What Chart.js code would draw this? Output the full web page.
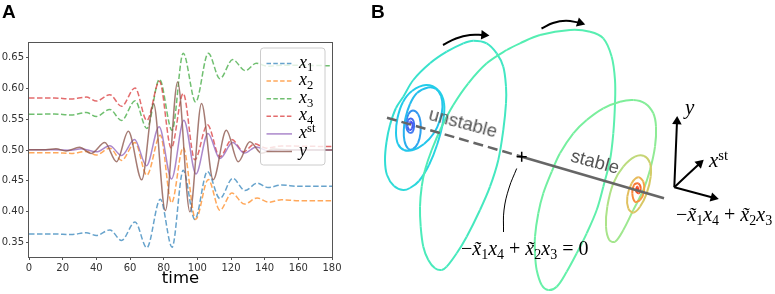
<!DOCTYPE html>
<html><head><meta charset="utf-8">
<script src="https://cdn.jsdelivr.net/npm/chart.js@4.4.1/dist/chart.umd.min.js"></script>
<style>
html,body{margin:0;padding:0;background:#fff;}
#wrap{position:relative;width:775px;height:294px;overflow:hidden;background:#fff;}
canvas{position:absolute;top:0;}
#cA{left:0;} #cB{left:372px;}
.t{position:absolute;white-space:nowrap;line-height:1;}
.panel{font-family:"Liberation Sans",Arial,sans-serif;font-weight:bold;font-size:19px;color:#000;}
.math{font-family:"Liberation Serif","DejaVu Serif",serif;color:#000;}
.math i{font-style:italic;}
.sb{font-size:0.7em;position:relative;top:0.3em;font-style:normal;}
.sp{font-size:0.7em;position:relative;top:-0.45em;font-style:normal;}
#timeLbl{font-family:"DejaVu Sans",sans-serif;font-size:16.5px;left:180.5px;top:270px;transform:translateX(-50%);color:#000;}
.llab{font-size:18px;}
.word{font-family:"Liberation Sans",Arial,sans-serif;font-size:18.5px;color:#555;transform:translate(-50%,-50%) rotate(15deg);}
</style>
</head><body>
<div id="wrap">
  <canvas id="cA" width="372" height="294"></canvas>
  <canvas id="cB" width="403" height="294"></canvas>
  <div class="t panel" style="left:2px;top:1.5px">A</div>
  <div class="t panel" style="left:371px;top:1.5px">B</div>
  <div class="t" id="timeLbl">time</div>
  <div id="legLabels"></div>
  <div class="t word" style="left:463px;top:123px">unstable</div>
  <div class="t word" style="left:595px;top:161.5px">stable</div>
  <div class="t math" style="left:461px;top:238px;font-size:20px">−<i>x̃</i><span class="sb">1</span><i>x</i><span class="sb">4</span> + <i>x̃</i><span class="sb">2</span><i>x</i><span class="sb">3</span> = 0</div>
  <div class="t math" style="left:685px;top:96.5px;font-size:21px"><i>y</i></div>
  <div class="t math" style="left:709px;top:149.5px;font-size:21px"><i>x</i><span class="sp">st</span></div>
  <div class="t math" style="left:676px;top:203.5px;font-size:20px">−<i>x̃</i><span class="sb">1</span><i>x</i><span class="sb">4</span> + <i>x̃</i><span class="sb">2</span><i>x</i><span class="sb">3</span></div>
</div>
<script>
// ---------- Panel A data ----------
const xTicks = [0, 20, 40, 60, 80, 100, 120, 140, 160, 180];
const yTicks = [0.35, 0.40, 0.45, 0.50, 0.55, 0.60, 0.65];

const timeX1 = [0, 15, 25, 34, 40, 48, 55, 63, 70, 78, 85, 91.6, 98.5, 106, 113.4, 121, 128.3, 135.5, 142, 150, 160, 180];
const valX1  = [0.3635, 0.3635, 0.3625, 0.3655, 0.361, 0.370, 0.353, 0.383, 0.341, 0.420, 0.342, 0.467, 0.387, 0.465, 0.421, 0.454, 0.434, 0.446, 0.439, 0.443, 0.441, 0.441];

const timeX2 = [0, 15, 25, 34, 40, 48, 55, 63, 70, 78, 84.7, 91.6, 99, 106.5, 113.4, 120.5, 128, 135.5, 142.5, 150, 160, 180];
const valX2  = [0.4955, 0.4955, 0.4945, 0.4975, 0.492, 0.503, 0.483, 0.512, 0.459, 0.524, 0.414, 0.504, 0.387, 0.452, 0.402, 0.430, 0.412, 0.422, 0.415, 0.419, 0.4175, 0.4175];

const timeX3 = [0, 15, 25, 34, 40, 48, 55, 63, 70, 77.5, 85, 91.6, 99, 106.5, 113.4, 121, 128.5, 135, 142, 150, 180];
const valX3  = [0.558, 0.5585, 0.557, 0.561, 0.5545, 0.566, 0.548, 0.580, 0.535, 0.615, 0.532, 0.6575, 0.578, 0.6575, 0.616, 0.647, 0.629, 0.641, 0.636, 0.638, 0.637];

const timeX4 = [0, 15, 25, 34, 40, 48, 55, 63, 70, 77.5, 84.5, 91.6, 98.5, 106, 113.4, 120.5, 127.5, 134, 141, 150, 180];
const valX4  = [0.5845, 0.5845, 0.583, 0.586, 0.5795, 0.590, 0.571, 0.601, 0.548, 0.612, 0.503, 0.592, 0.484, 0.541, 0.489, 0.517, 0.497, 0.510, 0.503, 0.5065, 0.5055];

const timeXst = [0, 15, 25, 31, 40, 48, 55, 62.7, 69.8, 77.3, 84.7, 92, 99.2, 106.3, 113.4, 121, 128, 135, 142, 150, 180];
const valXst  = [0.5005, 0.5005, 0.4995, 0.502, 0.497, 0.507, 0.491, 0.517, 0.4745, 0.538, 0.453, 0.5485, 0.461, 0.527, 0.486, 0.512, 0.495, 0.505, 0.4985, 0.5005, 0.500];

const timeY = [0, 10, 16, 22, 30, 37, 45, 52, 59, 67, 74, 81, 88.3, 95.6, 102.5, 109.4, 117.2, 124.3, 131.2, 138.2, 145, 155, 180];
const valY  = [0.5005, 0.5005, 0.502, 0.4985, 0.5045, 0.4945, 0.512, 0.481, 0.5305, 0.4515, 0.5755, 0.4015, 0.6105, 0.3995, 0.5755, 0.4515, 0.532, 0.481, 0.5135, 0.4946, 0.5015, 0.500, 0.500];

const seriesLabels = [
  '<i>x</i><span class="sb">1</span>', '<i>x</i><span class="sb">2</span>',
  '<i>x</i><span class="sb">3</span>', '<i>x</i><span class="sb">4</span>',
  '<i>x</i><span class="sp">st</span>', '<i>y</i>'
];

// ---------- Panel B data (schematic coordinates) ----------
const trajectory = [
 [410,125],[410.5,121.5],[412.5,124],[412,128.5],[409.5,130],[407.5,126.5],[408,120.5],
 [411,118.5],[413.5,121],[414,127],[412.5,132],[409,132.5],[406.5,128],[406.5,121],[408.5,114],
 [413,110.5],[418,114],[420.5,122],[420.5,133],[418,143],[413,149],[408,148.5],[404.5,141],[403.8,130],[405.5,118],
 [410,104],[417,93],[428,87.5],[436,89],[441,96],[442.5,107],[440,120],[434,133],[424,144],[413,150],[404,150],
 [398,144],[396,133],[397.5,118],[403,102],[412,91],[426,85],[438,90],[444,103],[443,122],[437,145],[429,165],
 [419,181],[410,188],[403,190],[394,186],[387,175],[385,160],[386.5,142],[390,125],[396,108],[403.3,96.7],
 [413.3,80],[430,63.3],[446.7,51.7],[463.3,43.3],[473.3,40.7],[486.7,43.3],[496.7,53.3],[503.3,66.7],[506,86.7],
 [506,103.3],[503.3,130],[498.3,160],[490,186.7],[480,210],[466.7,236.7],[456.7,253.3],[446.7,266.7],[441.7,270],
 [435,268.3],[428.3,260],[423.3,246.7],[420.7,226.7],[420,206.7],[421.7,186.7],[425,170],[431.7,150],[441.7,126.7],
 [453.3,105],[468.3,83.3],[486.7,63.3],[506.7,50],[520,43.3],[540,35],[570,30],[590,31.7],[603.3,38.3],[611.7,56.7],
 [615,80],[615,103.3],[613.3,133.3],[610,160],[603.3,186.7],[596.7,210],[586.7,233.3],[576.7,253.3],[566.7,271.7],
 [556.7,286.7],[548.3,290],[541.7,285],[536.7,270],[535,253.3],[535,236.7],[538.3,213.3],[543.3,193.3],[551.7,171.7],
 [560,153.3],[573.3,133.3],[586.7,120],[603.3,108.3],[620,101.7],[633.3,100],[645,103.3],[653.3,113.3],[656,126.7],
 [655,146.7],[650,170],[643.3,190],[633.3,210],[623.3,230],[615,241.7],[609.3,240],[606,226.7],[607.3,206.7],
 [613.3,183.3],[623.3,166.7],[635,156.7],[644,156],[650,163.3],[650.7,176.7],[646.7,193.3],[640,206.7],[633.3,212.7],
 [628.3,208.3],[627.3,196.7],[631.7,183.3],[638.3,177.3],[643.3,181.7],[644,191.7],[640,200],[635,201.7],[632.3,193.3],
 [634,185],[638.3,183.3],[640.7,188.3],[638.7,193.3],[636,190.7],[637.3,186.7],[638.3,190]
];
const unstableSeg = [[387,117.7],[521.7,156.7]];
const stableSeg   = [[521.7,156.7],[664,198.3]];
const crossPt     = [[521.7,156.7]];
const leaderCurve = [[516.7,168.5],[509,188],[504,210],[503.5,232]];
const flowArrow1  = [[443,45],[456,38.5],[470,35],[484,35]];
const flowArrow2  = [[541.5,28.5],[553,23],[566,20.8],[580,22.8]];
const axisUp      = [[674.3,187.3],[677,121.5]];
const axisDiag    = [[674.3,187.3],[699.7,163.4]];
const axisRight   = [[674.3,187.3],[713.5,197.7]];

// ---------- styles ----------
const trajStops = [[0,'#4848f2'],[10,'#3c78f0'],[16,'#2f9cef'],[26,'#24c0ec'],[40,'#22ccea'],[50,'#30dcd6'],[62,'#40e6c4'],[88,'#54eeb2'],[104,'#66f0a8'],[116,'#7eee9a'],[124,'#9ce890'],[130,'#b4e084'],[134,'#d2cc68'],[141,'#e6bc5c'],[143,'#f6a444'],[147,'#f8843a'],[150,'#f65a2c'],[154,'#f0381c']];
function hexRgb(h){return [parseInt(h.slice(1,3),16),parseInt(h.slice(3,5),16),parseInt(h.slice(5,7),16)];}
function trajColor(i){
  for(let k=0;k<trajStops.length-1;k++){
    const [i0,c0]=trajStops[k],[i1,c1]=trajStops[k+1];
    if(i<=i1){const f=(i-i0)/(i1-i0),a=hexRgb(c0),b=hexRgb(c1);
      return 'rgb('+a.map((v,j)=>Math.round(v+(b[j]-v)*f)).join(',')+')';}
  }
  return trajStops[trajStops.length-1][1];
}

const seriesA = [
  {t:timeX1, v:valX1, color:'rgba(31,119,180,0.68)', dash:[5.5,2.5]},
  {t:timeX2, v:valX2, color:'rgba(255,127,14,0.68)', dash:[5.5,2.5]},
  {t:timeX3, v:valX3, color:'rgba(44,160,44,0.68)', dash:[5.5,2.5]},
  {t:timeX4, v:valX4, color:'rgba(214,39,40,0.68)', dash:[5.5,2.5]},
  {t:timeXst, v:valXst, color:'rgba(148,103,189,0.78)', dash:null},
  {t:timeY, v:valY, color:'rgba(140,86,75,0.78)', dash:null}
];
const pts = (t,v)=>t.map((x,i)=>({x:x,y:v[i]}));
const xy = a=>a.map(p=>({x:p[0],y:p[1]}));

const legBox = {x:260.5, y:48, w:64.5, h:117, rowY0:63.5, rowDy:17.6, swX0:266.5, swX1:292, labX:299};
const framePlugin = {id:'frame', afterDatasetsDraw(c){
  const a=c.chartArea, g=c.ctx; g.save(); g.strokeStyle='#555'; g.lineWidth=1;
  g.strokeRect(Math.round(a.left)-0.5, Math.round(a.top)-0.5, Math.round(a.right-a.left)+1, Math.round(a.bottom-a.top)+1);
  // legend box
  const b=legBox, r=3;
  g.beginPath();
  g.moveTo(b.x+r,b.y); g.lineTo(b.x+b.w-r,b.y); g.arcTo(b.x+b.w,b.y,b.x+b.w,b.y+r,r);
  g.lineTo(b.x+b.w,b.y+b.h-r); g.arcTo(b.x+b.w,b.y+b.h,b.x+b.w-r,b.y+b.h,r);
  g.lineTo(b.x+r,b.y+b.h); g.arcTo(b.x,b.y+b.h,b.x,b.y+b.h-r,r);
  g.lineTo(b.x,b.y+r); g.arcTo(b.x,b.y,b.x+r,b.y,r); g.closePath();
  g.fillStyle='rgba(255,255,255,0.8)'; g.fill(); g.strokeStyle='#cccccc'; g.stroke();
  seriesA.forEach((s,i)=>{
    const y=b.rowY0+i*b.rowDy;
    g.beginPath(); g.setLineDash(s.dash?[4.5,2.3]:[]); g.strokeStyle=s.color; g.lineWidth=1.5;
    g.moveTo(b.swX0,y); g.lineTo(b.swX1,y); g.stroke();
  });
  g.restore();
}};

new Chart(document.getElementById('cA'), {
  type:'line',
  data:{datasets: seriesA.map((s,i)=>({
    data: pts(s.t,s.v), borderColor:s.color, borderWidth:1.5, borderDash:s.dash||[],
    pointRadius:0, cubicInterpolationMode:'monotone', fill:false, order:6-i
  }))},
  options:{
    responsive:false, animation:false, devicePixelRatio:1, events:[],
    layout:{autoPadding:false, padding:{left:0, top:43, right:40, bottom:0}},
    plugins:{legend:{display:false}, tooltip:{enabled:false}},
    scales:{
      x:{type:'linear', min:0, max:180,
        afterBuildTicks:s=>{s.ticks=xTicks.map(v=>({value:v}));},
        afterFit:s=>{s.height=37;},
        ticks:{font:{family:'DejaVu Sans', size:10}, color:'#333', padding:2, maxRotation:0, autoSkip:false, callback:v=>String(v)},
        grid:{drawOnChartArea:false, drawTicks:true, tickLength:3, tickColor:'#555'},
        border:{display:false}},
      y:{type:'linear', min:0.326, max:0.674,
        afterBuildTicks:s=>{s.ticks=yTicks.map(v=>({value:v}));},
        afterFit:s=>{s.width=29;},
        ticks:{font:{family:'DejaVu Sans', size:10}, color:'#333', padding:2, autoSkip:false, callback:v=>Number(v).toFixed(2)},
        grid:{drawOnChartArea:false, drawTicks:true, tickLength:3, tickColor:'#555'},
        border:{display:false}}
    }
  },
  plugins:[framePlugin]
});

// legend labels as real HTML text
const legLabels = document.getElementById('legLabels');
seriesLabels.forEach((html,i)=>{
  const lab=document.createElement('div'); lab.className='t math llab';
  lab.style.left=legBox.labX+'px'; lab.style.top=(legBox.rowY0+i*legBox.rowDy-10.9)+'px';
  lab.innerHTML=html; legLabels.appendChild(lab);
});

// ---------- Panel B ----------
const black='#000', gray='#666';
function arrowDs(a, rot, order){
  const n=a.length;
  return {data:xy(a), borderColor:black, backgroundColor:black, borderWidth:2, tension:0.4,
    pointStyle:'triangle', pointRadius:a.map((p,i)=>i===n-1?5.5:0), pointBorderWidth:0,
    pointRotation:a.map((p,i)=>i===n-1?rot:0), order:order, clip:false};
}
new Chart(document.getElementById('cB'), {
  type:'line',
  data:{datasets:[
    {data:xy(crossPt), showLine:false, pointStyle:'cross', pointRadius:5, pointBorderWidth:1.5, borderColor:black, order:0, clip:false},
    {data:xy(unstableSeg), borderColor:gray, borderWidth:2.5, borderDash:[10,5], pointRadius:0, order:1, clip:false},
    {data:xy(stableSeg), borderColor:gray, borderWidth:2.5, pointRadius:0, order:1, clip:false},
    {data:xy(leaderCurve), borderColor:black, borderWidth:1, tension:0.4, pointRadius:0, order:1, clip:false},
    arrowDs(flowArrow1, 95, 1), arrowDs(flowArrow2, 108, 1),
    arrowDs(axisUp, 2, 1), arrowDs(axisDiag, 47, 1), arrowDs(axisRight, 105, 1),
    {data:xy(trajectory), borderWidth:2, tension:0.35, pointRadius:0, order:5, clip:false,
     borderColor:'#55eeb0', segment:{borderColor:c=>trajColor(c.p0DataIndex)}}
  ]},
  options:{
    responsive:false, animation:false, devicePixelRatio:1, events:[],
    layout:{autoPadding:false, padding:0},
    plugins:{legend:{display:false}, tooltip:{enabled:false}},
    scales:{
      x:{type:'linear', min:372, max:775, display:false},
      y:{type:'linear', min:0, max:294, reverse:true, display:false}
    }
  }
});
</script>
</body></html>
